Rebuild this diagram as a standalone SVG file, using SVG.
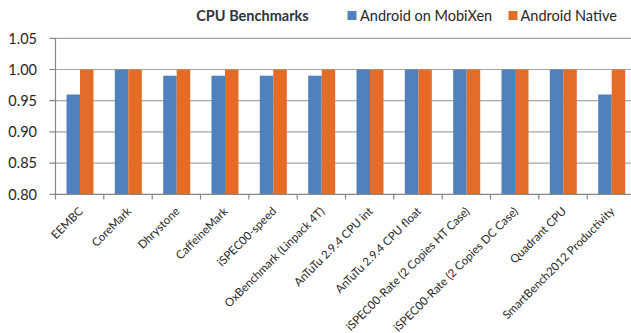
<svg xmlns="http://www.w3.org/2000/svg" width="631" height="333" viewBox="0 0 631 333">
<style>
.grid{stroke:#a6a6a6;stroke-width:1.2;fill:none}
.axis{stroke:#868686;stroke-width:1.2;fill:none}
.b{fill:#4f81bd}
.o{fill:#e46c26}
.yl{font-family:Lato,"Liberation Sans",sans-serif;font-size:14.5px;fill:#262626;text-anchor:end}
.xl{font-family:Lato,"Liberation Sans",sans-serif;font-size:11.5px;fill:#262626;text-anchor:end}
.lg{font-family:Lato,"Liberation Sans",sans-serif;font-size:14.5px;fill:#262626}
.title{font-family:Lato,"Liberation Sans",sans-serif;font-size:14.5px;font-weight:bold;fill:#333;text-anchor:middle}
</style>
<rect width="631" height="333" fill="#fff"/>
<g id="gridlines">
<path class="grid" d="M55.5 38.3H636M55.5 69.5H636M55.5 100.7H636M55.5 131.9H636M55.5 163.1H636"/>
</g>
<g id="bars-mobixen">
<rect class="b" x="66.5" y="94.5" width="13.5" height="99.8"/>
<rect class="b" x="114.8" y="69.5" width="13.5" height="124.8"/>
<rect class="b" x="163.2" y="75.7" width="13.5" height="118.6"/>
<rect class="b" x="211.5" y="75.7" width="13.5" height="118.6"/>
<rect class="b" x="259.8" y="75.7" width="13.5" height="118.6"/>
<rect class="b" x="308.2" y="75.7" width="13.5" height="118.6"/>
<rect class="b" x="356.5" y="69.5" width="13.5" height="124.8"/>
<rect class="b" x="404.8" y="69.5" width="13.5" height="124.8"/>
<rect class="b" x="453.2" y="69.5" width="13.5" height="124.8"/>
<rect class="b" x="501.5" y="69.5" width="13.5" height="124.8"/>
<rect class="b" x="549.8" y="69.5" width="13.5" height="124.8"/>
<rect class="b" x="598.2" y="94.5" width="13.5" height="99.8"/>
</g>
<g id="bars-native">
<rect class="o" x="80" y="69.5" width="13.5" height="124.8"/>
<rect class="o" x="128.3" y="69.5" width="13.5" height="124.8"/>
<rect class="o" x="176.7" y="69.5" width="13.5" height="124.8"/>
<rect class="o" x="225" y="69.5" width="13.5" height="124.8"/>
<rect class="o" x="273.3" y="69.5" width="13.5" height="124.8"/>
<rect class="o" x="321.7" y="69.5" width="13.5" height="124.8"/>
<rect class="o" x="370" y="69.5" width="13.5" height="124.8"/>
<rect class="o" x="418.3" y="69.5" width="13.5" height="124.8"/>
<rect class="o" x="466.7" y="69.5" width="13.5" height="124.8"/>
<rect class="o" x="515" y="69.5" width="13.5" height="124.8"/>
<rect class="o" x="563.3" y="69.5" width="13.5" height="124.8"/>
<rect class="o" x="611.7" y="69.5" width="13.5" height="124.8"/>
</g>
<g id="axes">
<path class="axis" d="M55.5 38.3V194.3M55.5 194.3H636"/>
<path class="axis" d="M49.5 38.3H55.5M49.5 69.5H55.5M49.5 100.7H55.5M49.5 131.9H55.5M49.5 163.1H55.5M49.5 194.3H55.5"/>
<path class="axis" d="M55.5 194.3V199.5M103.8 194.3V199.5M152.2 194.3V199.5M200.5 194.3V199.5M248.8 194.3V199.5M297.2 194.3V199.5M345.5 194.3V199.5M393.8 194.3V199.5M442.2 194.3V199.5M490.5 194.3V199.5M538.8 194.3V199.5M587.2 194.3V199.5"/>
</g>
<g id="y-labels">
<text class="yl" x="37" y="43.5">1.05</text>
<text class="yl" x="37" y="74.7">1.00</text>
<text class="yl" x="37" y="105.9">0.95</text>
<text class="yl" x="37" y="137.1">0.90</text>
<text class="yl" x="37" y="168.3">0.85</text>
<text class="yl" x="37" y="199.5">0.80</text>
</g>
<g id="x-labels">
<text class="xl" transform="translate(83.7 212) rotate(-45)">EEMBC</text>
<text class="xl" transform="translate(132 212) rotate(-45)">CoreMark</text>
<text class="xl" transform="translate(180.3 212) rotate(-45)">Dhrystone</text>
<text class="xl" transform="translate(228.7 212) rotate(-45)">CaffeineMark</text>
<text class="xl" transform="translate(277 212) rotate(-45)">iSPEC00-speed</text>
<text class="xl" transform="translate(325.3 212) rotate(-45)">OxBenchmark (Linpack 4T)</text>
<text class="xl" transform="translate(373.7 212) rotate(-45)">AnTuTu 2.9.4 CPU int</text>
<text class="xl" transform="translate(422 212) rotate(-45)">AnTuTu 2.9.4 CPU float</text>
<text class="xl" transform="translate(470.3 212) rotate(-45)">iSPEC00-Rate (2 Copies HT Case)</text>
<text class="xl" transform="translate(518.7 212) rotate(-45)">iSPEC00-Rate (2 Copies DC Case)</text>
<text class="xl" transform="translate(567 212) rotate(-45)">Quadrant CPU</text>
<text class="xl" transform="translate(615.3 212) rotate(-45)">SmartBench2012 Productivity</text>
</g>
<g id="title">
<text class="title" x="252.5" y="21">CPU Benchmarks</text>
</g>
<g id="legend">
<rect class="b" x="347.5" y="11" width="9" height="9"/>
<text class="lg" x="360" y="20.5">Android on MobiXen</text>
<rect class="o" x="508.5" y="11" width="9" height="9"/>
<text class="lg" x="520.5" y="20.5">Android Native</text>
</g>
</svg>
